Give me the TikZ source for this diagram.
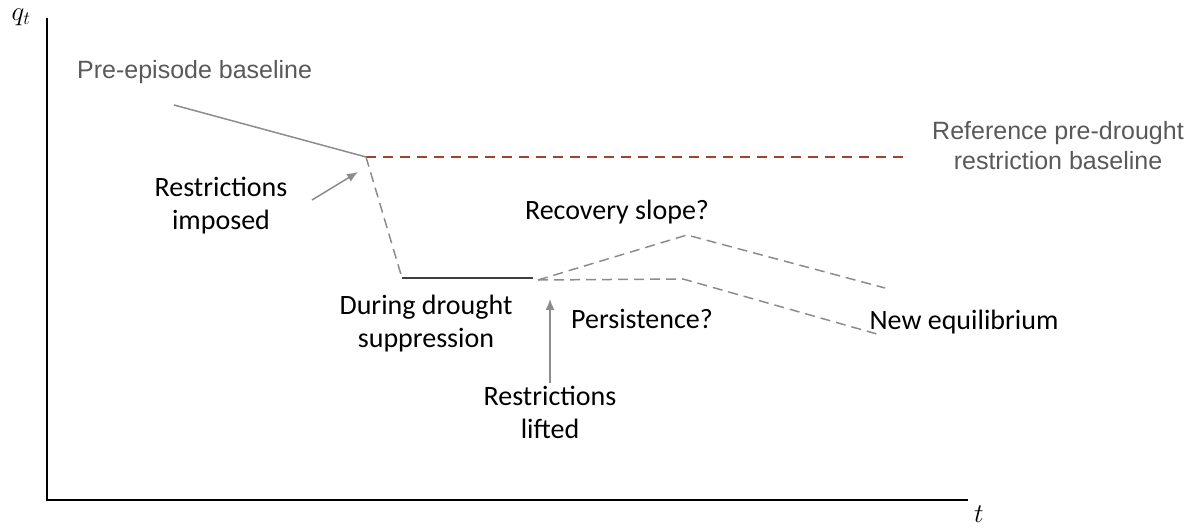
\RequirePackage{fix-cm}
\documentclass[tikz,border=0pt]{standalone}
\usepackage{fontspec}
\newfontfamily\tagfont{Carlito}
\newfontfamily\notefont{Liberation Sans}
\usetikzlibrary{arrows.meta,positioning}
\definecolor{notegray}{HTML}{595959}
\definecolor{linegray}{HTML}{8C8C8C}
\definecolor{darkline}{HTML}{404040}
\definecolor{basered}{HTML}{A5402D}

\tikzset{
  tag/.style={font=\tagfont\fontsize{28}{33}\selectfont, align=center, inner sep=0pt},
  note/.style={font=\notefont\fontsize{25}{30}\selectfont, text=notegray, align=center, inner sep=0pt},
  axislabel/.style={font=\fontsize{27}{30}\selectfont, inner sep=0pt},
  pathdash/.style={linegray, line width=1.5pt, dash pattern=on 10pt off 6pt},
  pointer/.style={linegray, line width=1.5pt, -{Latex[length=11pt,width=9pt]}},
}

\begin{document}
\begin{tikzpicture}[x=1pt,y=-1pt]
\useasboundingbox (0,0) rectangle (1186,529);

% axes
\coordinate (ytop) at (47,18);
\coordinate (origin) at (47,500);
\coordinate (xend) at (968,500);
\draw[line width=1.4pt] (ytop) -- (origin) -- (xend);
\node[axislabel] (qlabel) at (21,17) {$q_t$};
\node[axislabel] (tlabel) at (979,514) {$t$};

% path points
\coordinate (pre) at (174,105);
\coordinate (imposed) at (366,157);
\coordinate (refend) at (910,157);
\coordinate (low) at (402,278);
\coordinate (lowend) at (533,278);
\coordinate (lift) at (538,280);
\coordinate (recpeak) at (687,235);
\coordinate (recend) at (885,288);
\coordinate (perscorner) at (683,279);
\coordinate (persend) at (877,334);

\draw[linegray, line width=1.5pt] (pre) -- (imposed);
\draw[basered, line width=1.8pt, dash pattern=on 10pt off 7pt] (imposed) -- (refend);
\draw[pathdash] (imposed) -- (low);
\draw[darkline, line width=1.5pt] (low) -- (lowend);
\draw[pathdash] (lift) -- (recpeak) -- (recend);
\draw[pathdash] (lift) -- (perscorner) -- (persend);

% labels
\node[note, anchor=west] (prebase) at (77,72) {Pre-episode baseline};
\node[note] (refbase) at (1058,146) {Reference pre-drought\\restriction baseline};
\node[tag] (impose) at (221,206) {Restrictions\\imposed};
\node[tag] (during) at (426,324) {During drought\\suppression};
\node[tag] (slope) at (617,212) {Recovery slope?};
\node[tag] (persist) at (642,319) {Persistence?};
\node[tag] (neweq) at (964,322) {New equilibrium};
\node[tag] (lifted) at (550,412) {Restrictions\\lifted};

% pointers
\coordinate (imposetail) at (312,200);
\coordinate (imposehead) at (358,172);
\coordinate (lifttail) at (550,383);
\coordinate (lifthead) at (550,299);
\draw[pointer] (imposetail) -- (imposehead);
\draw[pointer] (lifttail) -- (lifthead);
\end{tikzpicture}
\end{document}
